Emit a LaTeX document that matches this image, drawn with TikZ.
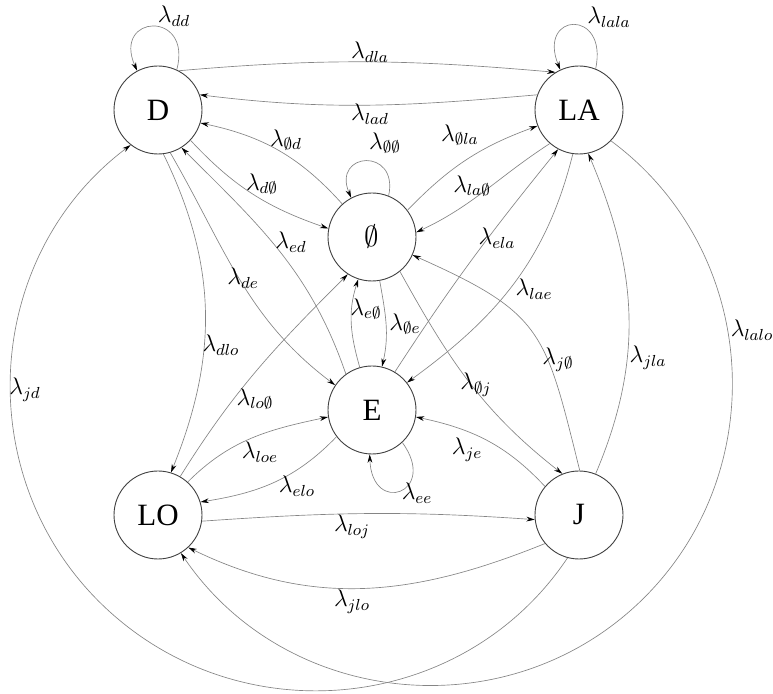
\documentclass[tikz,border=0pt]{standalone}
\usepackage{fontspec}
\setmainfont{Liberation Serif}
\usetikzlibrary{arrows.meta}
\definecolor{edgec}{gray}{0.52}
\definecolor{circc}{gray}{0.25}
\begin{document}
\begin{tikzpicture}[x=0.5pt,y=0.5pt,
  state/.style={circle,draw=circc,line width=0.45pt,minimum size=44pt,inner sep=0pt,font=\fontsize{15.5}{18}\selectfont},
  edge/.style={draw=edgec,line width=0.33pt,-{Stealth[length=4.2pt,width=2.4pt,color=black]}},
  lab/.style={font=\fontsize{12}{14}\selectfont,inner sep=0pt}]
\useasboundingbox (0,0) rectangle (773,-694);
% states
\node[state] (D)  at (158,-110) {D};
\node[state] (LA) at (579,-110) {LA};
\node[state] (O)  at (372,-237) {$\emptyset$};
\node[state] (E)  at (372,-410) {E};
\node[state] (LO) at (158,-515) {LO};
\node[state] (J)  at (579,-515) {J};
\coordinate (jdm) at (104.6,-607);
\coordinate (lam) at (639.9,-601.9);
% loops
\draw[edge] (D.65) .. controls +(75:62) and +(114:62) .. (D.118);
\draw[edge] (LA.68) .. controls +(78:62) and +(112:62) .. (LA.115);
\draw[edge] (O.68) .. controls +(78:50) and +(113:50) .. (O.118);
\draw[edge] (E.-47) .. controls +(-54:62) and +(-88:62) .. (E.-93);
% D <-> LA
\draw[edge] (D.62) to[out=5,in=175] (LA.122);
\draw[edge] (LA.160) to[out=185,in=-7] (D.20);
% D <-> O
\draw[edge] (O.132) to[out=132,in=-12] (D.-17);
\draw[edge] (D.-43) to[out=-47,in=161] (O.169);
% O <-> LA
\draw[edge] (O.37) to[out=46,in=200] (LA.201);
\draw[edge] (LA.229) to[out=213,in=25] (O.6);
% E <-> LA
\draw[edge] (E.59) to[out=57,in=231] (LA.242);
\draw[edge] (LA.262) to[out=256,in=36] (E.38);
% E <-> O
\draw[edge] (E.106) to[out=106,in=252] (O.252);
\draw[edge] (O.-80) to[out=-80,in=77] (E.77);
% D <-> E
\draw[edge] (D.-74) to[out=-60,in=143] (E.146);
\draw[edge] (E.126) to[out=109,in=-45] (D.-58);
% D -> LO
\draw[edge] (D.-83) to[out=-64,in=68] (LO.73);
% LO <-> O, E
\draw[edge] (LO.60) to[out=58,in=225] (O.237);
\draw[edge] (LO.48) to[out=45,in=192] (E.189);
\draw[edge] (E.217) to[out=226,in=9] (LO.17);
% LO <-> J
\draw[edge] (LO.-8) to[out=4,in=176] (J.186);
\draw[edge] (J.220) to[out=202,in=-26] (LO.-47);
% J <-> E, O, LA
\draw[edge] (J.140) to[out=133,in=-12] (E.-9);
\draw[edge] (O.-51) to[out=-61,in=142] (J.112);
\draw[edge] (J.89) to[out=104,in=-24,looseness=1.35] (O.-24);
\draw[edge] (J.68) to[out=67,in=-67] (LA.-78);
% big arcs
\draw[edge] (LA.-44) to[out=-36.5,in=43.8,looseness=1.03] (lam) to[out=-136.2,in=-55.9,looseness=1.03] (LO.-59);
\draw[edge] (J.255) to[out=236.2,in=-43.45,looseness=1.03] (jdm) to[out=136.55,in=216.9,looseness=1.03] (D.232);
% labels
\node[lab] (ldd)   at (174,-16)  {$\lambda_{dd}$};
\node[lab] (llala) at (609,-17)  {$\lambda_{lala}$};
\node[lab] (ldla)  at (370,-52)  {$\lambda_{dla}$};
\node[lab] (llad)  at (370,-114) {$\lambda_{lad}$};
\node[lab] (lOd)   at (286,-140) {$\lambda_{\emptyset d}$};
\node[lab] (lOO)   at (385,-143) {$\lambda_{\emptyset\emptyset}$};
\node[lab] (lOla)  at (460,-135) {$\lambda_{\emptyset la}$};
\node[lab] (ldO)   at (262,-184) {$\lambda_{d\emptyset}$};
\node[lab] (llaO)  at (472,-186) {$\lambda_{la\emptyset}$};
\node[lab] (led)   at (291,-242) {$\lambda_{ed}$};
\node[lab] (lela)  at (497,-238) {$\lambda_{ela}$};
\node[lab] (lde)   at (243,-278) {$\lambda_{de}$};
\node[lab] (llae)  at (534,-289) {$\lambda_{lae}$};
\node[lab] (leO)   at (366,-309) {$\lambda_{e\emptyset}$};
\node[lab] (lOe)   at (405,-324) {$\lambda_{\emptyset e}$};
\node[lab] (ldlo)  at (221,-345) {$\lambda_{dlo}$};
\node[lab] (ljd)   at (25,-390)  {$\lambda_{jd}$};
\node[lab] (llalo) at (752,-330) {$\lambda_{lalo}$};
\node[lab] (ljO)   at (558,-360) {$\lambda_{j\emptyset}$};
\node[lab] (ljla)  at (648,-358) {$\lambda_{jla}$};
\node[lab] (lloO)  at (255,-399) {$\lambda_{lo\emptyset}$};
\node[lab] (lOj)   at (476,-385) {$\lambda_{\emptyset j}$};
\node[lab] (lloe)  at (260,-452) {$\lambda_{loe}$};
\node[lab] (lje)   at (467,-450) {$\lambda_{je}$};
\node[lab] (lelo)  at (297,-486) {$\lambda_{elo}$};
\node[lab] (lee)   at (417,-493) {$\lambda_{ee}$};
\node[lab] (lloj)  at (352,-527) {$\lambda_{loj}$};
\node[lab] (ljlo)  at (352,-602) {$\lambda_{jlo}$};
\end{tikzpicture}
\end{document}
